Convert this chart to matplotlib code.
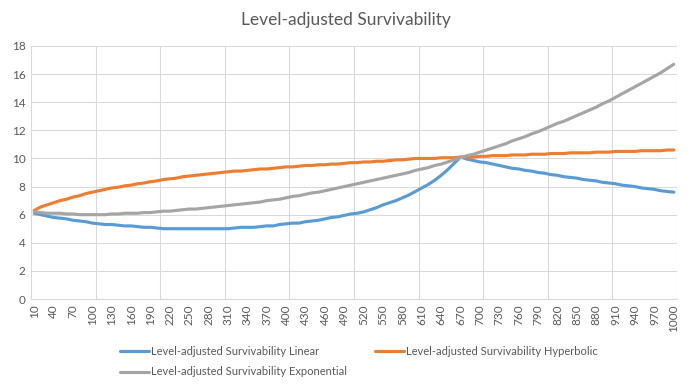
import numpy as np
import matplotlib.pyplot as plt

plt.rcParams['font.family'] = ['Lato', 'DejaVu Sans']

# x categories 10..1000
levels = list(range(10, 1001, 10))

linear = [6.1, 6.0, 5.9, 5.8, 5.75, 5.7, 5.6, 5.55, 5.5, 5.4,
          5.35, 5.3, 5.3, 5.25, 5.2, 5.2, 5.15, 5.1, 5.1, 5.05,
          5.0, 5.0, 5.0, 5.0, 5.0, 5.0, 5.0, 5.0, 5.0, 5.0,
          5.0, 5.05, 5.1, 5.1, 5.1, 5.15, 5.2, 5.2, 5.3, 5.35,
          5.4, 5.4, 5.5, 5.55, 5.6, 5.7, 5.8, 5.85, 5.95, 6.05,
          6.1, 6.2, 6.35, 6.5, 6.7, 6.85, 7.0, 7.2, 7.4, 7.65,
          7.9, 8.15, 8.45, 8.8, 9.2, 9.65, 10.1, 9.95, 9.85, 9.75,
          9.7, 9.6, 9.5, 9.4, 9.3, 9.25, 9.15, 9.1, 9.0, 8.95,
          8.85, 8.8, 8.7, 8.65, 8.6, 8.5, 8.45, 8.4, 8.3, 8.25,
          8.2, 8.1, 8.05, 8.0, 7.9, 7.85, 7.8, 7.7, 7.65, 7.6]

hyperbolic = [6.3, 6.55, 6.7, 6.85, 7.0, 7.1, 7.25, 7.35, 7.5, 7.6,
              7.7, 7.8, 7.9, 7.95, 8.05, 8.1, 8.2, 8.25, 8.35, 8.4,
              8.5, 8.55, 8.6, 8.7, 8.75, 8.8, 8.85, 8.9, 8.95, 9.0,
              9.05, 9.1, 9.1, 9.15, 9.2, 9.25, 9.25, 9.3, 9.35, 9.4,
              9.4, 9.45, 9.5, 9.5, 9.55, 9.55, 9.6, 9.6, 9.65, 9.7,
              9.7, 9.75, 9.75, 9.8, 9.8, 9.85, 9.9, 9.9, 9.95, 10.0,
              10.0, 10.0, 10.0, 10.05, 10.05, 10.05, 10.1, 10.1, 10.1, 10.15,
              10.15, 10.2, 10.2, 10.2, 10.25, 10.25, 10.25, 10.3, 10.3, 10.3,
              10.35, 10.35, 10.35, 10.4, 10.4, 10.4, 10.4, 10.45, 10.45, 10.45,
              10.5, 10.5, 10.5, 10.5, 10.55, 10.55, 10.55, 10.55, 10.6, 10.6]

exponential = [6.2, 6.15, 6.1, 6.1, 6.1, 6.05, 6.05, 6.0, 6.0, 6.0,
               6.0, 6.0, 6.05, 6.05, 6.1, 6.1, 6.1, 6.15, 6.15, 6.2,
               6.25, 6.25, 6.3, 6.35, 6.4, 6.4, 6.45, 6.5, 6.55, 6.6,
               6.65, 6.7, 6.75, 6.8, 6.85, 6.9, 7.0, 7.05, 7.1, 7.2,
               7.3, 7.35, 7.45, 7.55, 7.6, 7.7, 7.8, 7.9, 8.0, 8.1,
               8.2, 8.3, 8.4, 8.5, 8.6, 8.7, 8.8, 8.9, 9.0, 9.15,
               9.25, 9.35, 9.5, 9.6, 9.75, 9.9, 10.05, 10.2, 10.3, 10.45,
               10.6, 10.75, 10.9, 11.05, 11.25, 11.4, 11.55, 11.75, 11.9, 12.1,
               12.3, 12.5, 12.65, 12.85, 13.05, 13.25, 13.45, 13.65, 13.9, 14.1,
               14.35, 14.6, 14.85, 15.1, 15.35, 15.6, 15.85, 16.1, 16.4, 16.7]

series_names = ["Level-adjusted Survivability Linear",
                "Level-adjusted Survivability Hyperbolic",
                "Level-adjusted Survivability Exponential"]
colors = ["#5B9BD5", "#ED7D31", "#A5A5A5"]

fig = plt.figure(figsize=(6.91, 3.92), dpi=100)
ax = fig.add_axes([31 / 691, 1 - 299 / 392, 646 / 691, 253 / 392])

x = np.arange(len(levels))
lines = []
for vals, name, c in zip([linear, hyperbolic, exponential], series_names, colors):
    ln, = ax.plot(x, vals, color=c, lw=2.25, label=name, solid_capstyle='round')
    lines.append(ln)

ax.set_xlim(-0.5, len(levels) - 0.5)
ax.set_ylim(0, 18)
ax.set_yticks(range(0, 19, 2))
ax.set_xticks(x[::3])
ax.set_xticklabels([str(v) for v in levels[::3]], rotation=90)
ax.set_xticks(np.arange(-0.5, len(levels), 10), minor=True)

ax.grid(axis='y', color='#d9d9d9', lw=0.75)
ax.grid(axis='x', which='minor', color='#d9d9d9', lw=0.75)
ax.set_axisbelow(True)
for s in ['top', 'right', 'left']:
    ax.spines[s].set_visible(False)
ax.spines['bottom'].set_color('#d9d9d9')
ax.tick_params(axis='both', which='both', length=0, labelsize=8.5,
               labelcolor='#595959', pad=4)

fig.text(0.5, 1 - 20 / 392, "Level-adjusted Survivability", ha='center',
         va='center', fontsize=12.5, color='#595959')

# legend fills column-wise, so order so rows read Linear, Hyperbolic / Exponential
order = [0, 2, 1]
leg = fig.legend([lines[i] for i in order], [series_names[i] for i in order],
                 loc='upper left', bbox_to_anchor=(120 / 691, 1 - 346 / 392),
                 ncol=2, frameon=False, fontsize=8, labelcolor='#595959',
                 handlelength=2.6, handletextpad=0.15, columnspacing=2.6,
                 labelspacing=0.85, borderpad=0, borderaxespad=0)

fig.savefig("out.png", dpi=100)
